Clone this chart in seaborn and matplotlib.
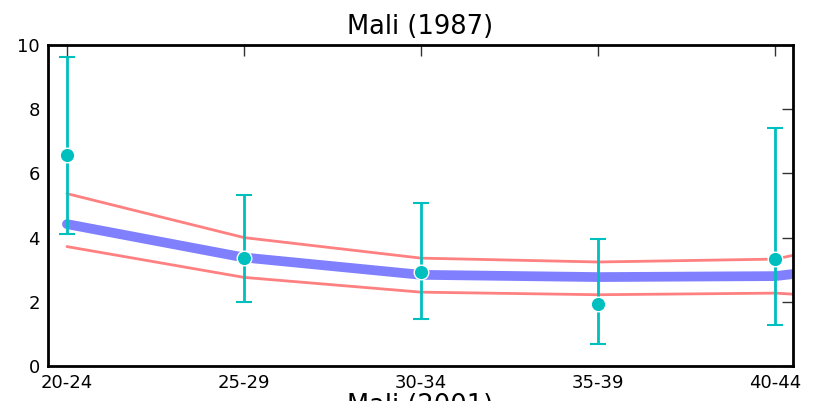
import matplotlib
matplotlib.use('Agg')
import matplotlib.pyplot as plt
import numpy as np
import pandas as pd
import seaborn as sns

# age groups, one extra group past the right edge so the lines run off the axes
ages = ['20-24', '25-29', '30-34', '35-39', '40-44']
line_ages = ['20-24', '25-29', '30-34', '35-39', '40-44', '45-49']

fit_mid = [4.42, 3.38, 2.84, 2.77, 2.80, 3.45]
fit_hi = [5.37, 4.00, 3.36, 3.24, 3.33, 4.50]
fit_lo = [3.72, 2.76, 2.30, 2.22, 2.27, 1.95]

obs = [6.58, 3.37, 2.92, 1.93, 3.33]
obs_hi = [9.62, 5.34, 5.08, 3.96, 7.40]
obs_lo = [4.10, 1.99, 1.46, 0.69, 1.29]

sns.set_style('white')
plt.rcParams['font.family'] = ['DejaVu Sans']
plt.rcParams['text.color'] = 'black'
plt.rcParams['xtick.color'] = 'black'
plt.rcParams['ytick.color'] = 'black'
plt.rcParams['axes.labelcolor'] = 'black'

fig = plt.figure(figsize=(8.16, 4.01), dpi=100)
ax = fig.add_axes([0.0588, 0.0873, 0.9130, 0.8005])

lines = pd.DataFrame({'x': np.arange(len(line_ages)), 'mid': fit_mid,
                      'hi': fit_hi, 'lo': fit_lo})
sns.lineplot(data=lines, x='x', y='hi', color='#ff8080', lw=2, ax=ax)
sns.lineplot(data=lines, x='x', y='lo', color='#ff8080', lw=2, ax=ax)
sns.lineplot(data=lines, x='x', y='mid', color='#8080ff', lw=7, ax=ax)

xs = np.arange(len(ages))
obs = np.array(obs)
yerr = [obs - np.array(obs_lo), np.array(obs_hi) - obs]
ax.errorbar(xs, obs, yerr=yerr, fmt='none', ecolor='#00bfbf', elinewidth=2,
            capsize=6, capthick=1.5, zorder=4)
sns.scatterplot(x=xs, y=obs, color='#00bfbf', s=110, edgecolor='white',
                linewidth=1, zorder=5, ax=ax)

ax.set_xlim(-0.107, 4.1)
ax.set_ylim(0, 10)
ax.set_xticks(xs)
ax.set_xticklabels(ages)
ax.set_yticks([0, 2, 4, 6, 8, 10])
ax.set_xlabel('')
ax.set_ylabel('')
ax.tick_params(direction='in', length=8, width=1, top=True, right=True,
               labelsize=13, color='#333333', labelcolor='black', pad=6)
for s in ax.spines.values():
    s.set_linewidth(2)
    s.set_color('black')
ax.set_title('Mali (1987)', fontsize=18.5, pad=8, color='black')

# title of the next panel, cut off at the bottom edge
fig.text(0.515, 0.02, 'Mali (2001)', fontsize=18.5, ha='center', va='top',
         color='black')

fig.savefig('out.png', dpi=100)
